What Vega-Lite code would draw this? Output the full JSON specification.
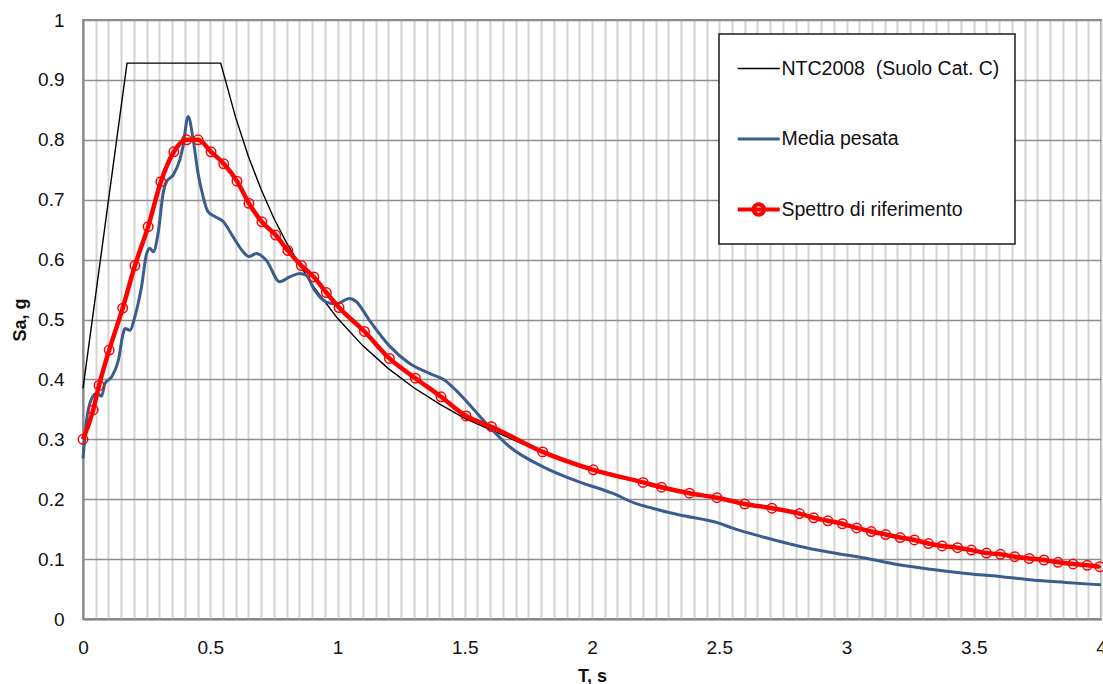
{
  "$schema": "https://vega.github.io/schema/vega-lite/v6.json",
  "width": 1018,
  "height": 599,
  "autosize": {"type": "none"},
  "padding": {"left": 83, "top": 20, "right": 2, "bottom": 65},
  "background": "white",
  "config": {"view": {"stroke": "#878787", "strokeWidth": 2}, "font": "Liberation Sans"},
  "data": {"values": [
    {"T": 0, "Sa": 0.385, "s": "NTC2008\u00a0 (Suolo Cat. C)"},
    {"T": 0.173, "Sa": 0.928, "s": "NTC2008\u00a0 (Suolo Cat. C)"},
    {"T": 0.541, "Sa": 0.928, "s": "NTC2008\u00a0 (Suolo Cat. C)"},
    {"T": 0.6, "Sa": 0.837, "s": "NTC2008\u00a0 (Suolo Cat. C)"},
    {"T": 0.65, "Sa": 0.772, "s": "NTC2008\u00a0 (Suolo Cat. C)"},
    {"T": 0.7, "Sa": 0.717, "s": "NTC2008\u00a0 (Suolo Cat. C)"},
    {"T": 0.75, "Sa": 0.669, "s": "NTC2008\u00a0 (Suolo Cat. C)"},
    {"T": 0.8, "Sa": 0.628, "s": "NTC2008\u00a0 (Suolo Cat. C)"},
    {"T": 0.9, "Sa": 0.558, "s": "NTC2008\u00a0 (Suolo Cat. C)"},
    {"T": 1.0, "Sa": 0.502, "s": "NTC2008\u00a0 (Suolo Cat. C)"},
    {"T": 1.1, "Sa": 0.456, "s": "NTC2008\u00a0 (Suolo Cat. C)"},
    {"T": 1.2, "Sa": 0.418, "s": "NTC2008\u00a0 (Suolo Cat. C)"},
    {"T": 1.3, "Sa": 0.386, "s": "NTC2008\u00a0 (Suolo Cat. C)"},
    {"T": 1.4, "Sa": 0.359, "s": "NTC2008\u00a0 (Suolo Cat. C)"},
    {"T": 1.5, "Sa": 0.335, "s": "NTC2008\u00a0 (Suolo Cat. C)"},
    {"T": 1.6, "Sa": 0.316, "s": "NTC2008\u00a0 (Suolo Cat. C)"},
    {"T": 1.8, "Sa": 0.279, "s": "NTC2008\u00a0 (Suolo Cat. C)"},
    {"T": 2.0, "Sa": 0.250, "s": "NTC2008\u00a0 (Suolo Cat. C)"},
    {"T": 2.2, "Sa": 0.228, "s": "NTC2008\u00a0 (Suolo Cat. C)"},
    {"T": 2.4, "Sa": 0.209, "s": "NTC2008\u00a0 (Suolo Cat. C)"},
    {"T": 2.6, "Sa": 0.193, "s": "NTC2008\u00a0 (Suolo Cat. C)"},
    {"T": 2.8, "Sa": 0.177, "s": "NTC2008\u00a0 (Suolo Cat. C)"},
    {"T": 3.0, "Sa": 0.157, "s": "NTC2008\u00a0 (Suolo Cat. C)"},
    {"T": 3.25, "Sa": 0.133, "s": "NTC2008\u00a0 (Suolo Cat. C)"},
    {"T": 3.5, "Sa": 0.115, "s": "NTC2008\u00a0 (Suolo Cat. C)"},
    {"T": 3.75, "Sa": 0.100, "s": "NTC2008\u00a0 (Suolo Cat. C)"},
    {"T": 4.0, "Sa": 0.087, "s": "NTC2008\u00a0 (Suolo Cat. C)"},

    {"T": 0, "Sa": 0.268, "s": "Media pesata"},
    {"T": 0.014, "Sa": 0.332, "s": "Media pesata"},
    {"T": 0.034, "Sa": 0.368, "s": "Media pesata"},
    {"T": 0.054, "Sa": 0.377, "s": "Media pesata"},
    {"T": 0.073, "Sa": 0.372, "s": "Media pesata"},
    {"T": 0.086, "Sa": 0.393, "s": "Media pesata"},
    {"T": 0.112, "Sa": 0.404, "s": "Media pesata"},
    {"T": 0.139, "Sa": 0.432, "s": "Media pesata"},
    {"T": 0.158, "Sa": 0.477, "s": "Media pesata"},
    {"T": 0.165, "Sa": 0.485, "s": "Media pesata"},
    {"T": 0.184, "Sa": 0.482, "s": "Media pesata"},
    {"T": 0.204, "Sa": 0.505, "s": "Media pesata"},
    {"T": 0.23, "Sa": 0.555, "s": "Media pesata"},
    {"T": 0.25, "Sa": 0.610, "s": "Media pesata"},
    {"T": 0.263, "Sa": 0.619, "s": "Media pesata"},
    {"T": 0.276, "Sa": 0.613, "s": "Media pesata"},
    {"T": 0.295, "Sa": 0.644, "s": "Media pesata"},
    {"T": 0.315, "Sa": 0.711, "s": "Media pesata"},
    {"T": 0.328, "Sa": 0.730, "s": "Media pesata"},
    {"T": 0.354, "Sa": 0.741, "s": "Media pesata"},
    {"T": 0.38, "Sa": 0.766, "s": "Media pesata"},
    {"T": 0.393, "Sa": 0.789, "s": "Media pesata"},
    {"T": 0.413, "Sa": 0.839, "s": "Media pesata"},
    {"T": 0.433, "Sa": 0.800, "s": "Media pesata"},
    {"T": 0.452, "Sa": 0.744, "s": "Media pesata"},
    {"T": 0.472, "Sa": 0.705, "s": "Media pesata"},
    {"T": 0.491, "Sa": 0.680, "s": "Media pesata"},
    {"T": 0.518, "Sa": 0.672, "s": "Media pesata"},
    {"T": 0.55, "Sa": 0.664, "s": "Media pesata"},
    {"T": 0.59, "Sa": 0.638, "s": "Media pesata"},
    {"T": 0.629, "Sa": 0.613, "s": "Media pesata"},
    {"T": 0.652, "Sa": 0.605, "s": "Media pesata"},
    {"T": 0.681, "Sa": 0.610, "s": "Media pesata"},
    {"T": 0.72, "Sa": 0.599, "s": "Media pesata"},
    {"T": 0.773, "Sa": 0.563, "s": "Media pesata"},
    {"T": 0.812, "Sa": 0.571, "s": "Media pesata"},
    {"T": 0.851, "Sa": 0.577, "s": "Media pesata"},
    {"T": 0.877, "Sa": 0.574, "s": "Media pesata"},
    {"T": 0.91, "Sa": 0.549, "s": "Media pesata"},
    {"T": 0.956, "Sa": 0.529, "s": "Media pesata"},
    {"T": 0.995, "Sa": 0.526, "s": "Media pesata"},
    {"T": 1.047, "Sa": 0.535, "s": "Media pesata"},
    {"T": 1.073, "Sa": 0.530, "s": "Media pesata"},
    {"T": 1.125, "Sa": 0.499, "s": "Media pesata"},
    {"T": 1.204, "Sa": 0.456, "s": "Media pesata"},
    {"T": 1.282, "Sa": 0.427, "s": "Media pesata"},
    {"T": 1.361, "Sa": 0.410, "s": "Media pesata"},
    {"T": 1.42, "Sa": 0.399, "s": "Media pesata"},
    {"T": 1.465, "Sa": 0.382, "s": "Media pesata"},
    {"T": 1.531, "Sa": 0.352, "s": "Media pesata"},
    {"T": 1.596, "Sa": 0.321, "s": "Media pesata"},
    {"T": 1.675, "Sa": 0.288, "s": "Media pesata"},
    {"T": 1.818, "Sa": 0.252, "s": "Media pesata"},
    {"T": 1.949, "Sa": 0.229, "s": "Media pesata"},
    {"T": 2.08, "Sa": 0.210, "s": "Media pesata"},
    {"T": 2.171, "Sa": 0.193, "s": "Media pesata"},
    {"T": 2.237, "Sa": 0.185, "s": "Media pesata"},
    {"T": 2.341, "Sa": 0.174, "s": "Media pesata"},
    {"T": 2.498, "Sa": 0.160, "s": "Media pesata"},
    {"T": 2.55, "Sa": 0.152, "s": "Media pesata"},
    {"T": 2.68, "Sa": 0.136, "s": "Media pesata"},
    {"T": 2.81, "Sa": 0.122, "s": "Media pesata"},
    {"T": 2.94, "Sa": 0.111, "s": "Media pesata"},
    {"T": 3.07, "Sa": 0.102, "s": "Media pesata"},
    {"T": 3.20, "Sa": 0.091, "s": "Media pesata"},
    {"T": 3.33, "Sa": 0.083, "s": "Media pesata"},
    {"T": 3.47, "Sa": 0.076, "s": "Media pesata"},
    {"T": 3.60, "Sa": 0.071, "s": "Media pesata"},
    {"T": 3.73, "Sa": 0.065, "s": "Media pesata"},
    {"T": 3.86, "Sa": 0.061, "s": "Media pesata"},
    {"T": 4.0, "Sa": 0.057, "s": "Media pesata"},

    {"T": 0, "Sa": 0.300, "s": "Spettro di riferimento"},
    {"T": 0.04, "Sa": 0.349, "s": "Spettro di riferimento"},
    {"T": 0.063, "Sa": 0.390, "s": "Spettro di riferimento"},
    {"T": 0.103, "Sa": 0.449, "s": "Spettro di riferimento"},
    {"T": 0.156, "Sa": 0.519, "s": "Spettro di riferimento"},
    {"T": 0.204, "Sa": 0.590, "s": "Spettro di riferimento"},
    {"T": 0.256, "Sa": 0.655, "s": "Spettro di riferimento"},
    {"T": 0.306, "Sa": 0.730, "s": "Spettro di riferimento"},
    {"T": 0.357, "Sa": 0.780, "s": "Spettro di riferimento"},
    {"T": 0.407, "Sa": 0.800, "s": "Spettro di riferimento"},
    {"T": 0.452, "Sa": 0.800, "s": "Spettro di riferimento"},
    {"T": 0.503, "Sa": 0.780, "s": "Spettro di riferimento"},
    {"T": 0.553, "Sa": 0.760, "s": "Spettro di riferimento"},
    {"T": 0.605, "Sa": 0.731, "s": "Spettro di riferimento"},
    {"T": 0.652, "Sa": 0.694, "s": "Spettro di riferimento"},
    {"T": 0.703, "Sa": 0.663, "s": "Spettro di riferimento"},
    {"T": 0.757, "Sa": 0.641, "s": "Spettro di riferimento"},
    {"T": 0.805, "Sa": 0.615, "s": "Spettro di riferimento"},
    {"T": 0.858, "Sa": 0.590, "s": "Spettro di riferimento"},
    {"T": 0.907, "Sa": 0.571, "s": "Spettro di riferimento"},
    {"T": 0.956, "Sa": 0.545, "s": "Spettro di riferimento"},
    {"T": 1.006, "Sa": 0.520, "s": "Spettro di riferimento"},
    {"T": 1.106, "Sa": 0.480, "s": "Spettro di riferimento"},
    {"T": 1.204, "Sa": 0.435, "s": "Spettro di riferimento"},
    {"T": 1.306, "Sa": 0.402, "s": "Spettro di riferimento"},
    {"T": 1.407, "Sa": 0.371, "s": "Spettro di riferimento"},
    {"T": 1.505, "Sa": 0.339, "s": "Spettro di riferimento"},
    {"T": 1.605, "Sa": 0.321, "s": "Spettro di riferimento"},
    {"T": 1.806, "Sa": 0.279, "s": "Spettro di riferimento"},
    {"T": 2.005, "Sa": 0.249, "s": "Spettro di riferimento"},
    {"T": 2.201, "Sa": 0.228, "s": "Spettro di riferimento"},
    {"T": 2.273, "Sa": 0.220, "s": "Spettro di riferimento"},
    {"T": 2.383, "Sa": 0.210, "s": "Spettro di riferimento"},
    {"T": 2.491, "Sa": 0.2025, "s": "Spettro di riferimento"},
    {"T": 2.600, "Sa": 0.192, "s": "Spettro di riferimento"},
    {"T": 2.707, "Sa": 0.185, "s": "Spettro di riferimento"},
    {"T": 2.815, "Sa": 0.176, "s": "Spettro di riferimento"},
    {"T": 2.871, "Sa": 0.169, "s": "Spettro di riferimento"},
    {"T": 2.927, "Sa": 0.164, "s": "Spettro di riferimento"},
    {"T": 2.984, "Sa": 0.159, "s": "Spettro di riferimento"},
    {"T": 3.040, "Sa": 0.152, "s": "Spettro di riferimento"},
    {"T": 3.097, "Sa": 0.146, "s": "Spettro di riferimento"},
    {"T": 3.154, "Sa": 0.141, "s": "Spettro di riferimento"},
    {"T": 3.211, "Sa": 0.136, "s": "Spettro di riferimento"},
    {"T": 3.267, "Sa": 0.132, "s": "Spettro di riferimento"},
    {"T": 3.322, "Sa": 0.126, "s": "Spettro di riferimento"},
    {"T": 3.376, "Sa": 0.122, "s": "Spettro di riferimento"},
    {"T": 3.436, "Sa": 0.119, "s": "Spettro di riferimento"},
    {"T": 3.491, "Sa": 0.115, "s": "Spettro di riferimento"},
    {"T": 3.550, "Sa": 0.110, "s": "Spettro di riferimento"},
    {"T": 3.605, "Sa": 0.108, "s": "Spettro di riferimento"},
    {"T": 3.661, "Sa": 0.104, "s": "Spettro di riferimento"},
    {"T": 3.718, "Sa": 0.101, "s": "Spettro di riferimento"},
    {"T": 3.776, "Sa": 0.0985, "s": "Spettro di riferimento"},
    {"T": 3.831, "Sa": 0.0947, "s": "Spettro di riferimento"},
    {"T": 3.890, "Sa": 0.092, "s": "Spettro di riferimento"},
    {"T": 3.946, "Sa": 0.0897, "s": "Spettro di riferimento"},
    {"T": 3.995, "Sa": 0.0873, "s": "Spettro di riferimento"}
  ]},
  "encoding": {
    "x": {
      "field": "T", "type": "quantitative",
      "scale": {"domain": [0, 4], "nice": false, "zero": false},
      "axis": {
        "values": [0,0.05,0.1,0.15,0.2,0.25,0.3,0.35,0.4,0.45,0.5,0.55,0.6,0.65,0.7,0.75,0.8,0.85,0.9,0.95,1,1.05,1.1,1.15,1.2,1.25,1.3,1.35,1.4,1.45,1.5,1.55,1.6,1.65,1.7,1.75,1.8,1.85,1.9,1.95,2,2.05,2.1,2.15,2.2,2.25,2.3,2.35,2.4,2.45,2.5,2.55,2.6,2.65,2.7,2.75,2.8,2.85,2.9,2.95,3,3.05,3.1,3.15,3.2,3.25,3.3,3.35,3.4,3.45,3.5,3.55,3.6,3.65,3.7,3.75,3.8,3.85,3.9,3.95,4],
        "labelExpr": "(round(datum.value*100) % 50 == 0) ? format(datum.value, '~g') : ''",
        "labelOverlap": false,
        "labelFlush": false,
        "grid": true, "gridColor": "#d4d4d4", "gridWidth": 2,
        "ticks": false,
        "domainColor": "#878787", "domainWidth": 2,
        "labelFont": "Liberation Sans", "labelFontSize": 19, "labelColor": "#111111", "labelPadding": 19,
        "title": "T, s", "titleFont": "Liberation Sans", "titleFontSize": 18, "titleFontWeight": "bold", "titleColor": "#111111", "titlePadding": 10
      }
    },
    "y": {
      "field": "Sa", "type": "quantitative",
      "scale": {"domain": [0, 1], "nice": false},
      "axis": {
        "values": [0,0.1,0.2,0.3,0.4,0.5,0.6,0.7,0.8,0.9,1],
        "format": "~g",
        "labelOverlap": false,
        "labelFlush": false,
        "grid": true, "gridColor": "#8e8e8e", "gridWidth": 1.6,
        "ticks": false,
        "domainColor": "#878787", "domainWidth": 2,
        "labelFont": "Liberation Sans", "labelFontSize": 19, "labelColor": "#111111", "labelPadding": 19,
        "title": "Sa, g", "titleFont": "Liberation Sans", "titleFontSize": 18, "titleFontWeight": "bold", "titleColor": "#111111", "titlePadding": 8
      }
    },
    "color": {
      "field": "s", "type": "nominal",
      "scale": {"domain": ["NTC2008\u00a0 (Suolo Cat. C)", "Media pesata", "Spettro di riferimento"], "range": ["#000000", "#3a5d8f", "#ff0000"]},
      "legend": {
        "orient": "none", "legendX": 636, "legendY": 14,
        "title": null,
        "fillColor": "white", "strokeColor": "#1a1a1a",
        "padding": 15, "rowPadding": 31.5, "clipHeight": 39,
        "symbolSize": 1764, "symbolOffset": 15,
        "labelFont": "Liberation Sans", "labelFontSize": 19.5, "labelColor": "#111111", "labelOffset": 13, "labelLimit": 500,
        "encode": {
          "legend": {"update": {"strokeWidth": {"value": 1.5}}},
          "symbols": {"update": {
            "size": {"value": 1764},
            "shape": {"signal": "datum.value == 'Spettro di riferimento' ? 'M-1,0H1M0.25,0A0.25,0.25,0,1,1,-0.25,0A0.25,0.25,0,1,1,0.25,0' : 'M-1,0H1'"},
            "strokeWidth": {"signal": "datum.value == 'Media pesata' ? 3 : (datum.value == 'Spettro di riferimento' ? 4 : 1.5)"},
            "fill": {"value": "transparent"}
          }}
        }
      }
    }
  },
  "layer": [
    {"transform": [{"filter": "datum.s != 'Media pesata' && datum.s != 'Spettro di riferimento'"}], "mark": {"type": "line", "strokeWidth": 1.4}},
    {"transform": [{"filter": {"field": "s", "equal": "Media pesata"}}], "mark": {"type": "line", "strokeWidth": 3, "interpolate": "monotone"}},
    {"transform": [{"filter": {"field": "s", "equal": "Spettro di riferimento"}}], "mark": {"type": "line", "strokeWidth": 4.5, "interpolate": "monotone"}},
    {"transform": [{"filter": {"field": "s", "equal": "Spettro di riferimento"}}], "mark": {"type": "point", "shape": "circle", "filled": false, "size": 90, "strokeWidth": 1.5, "opacity": 1}}
  ]
}
